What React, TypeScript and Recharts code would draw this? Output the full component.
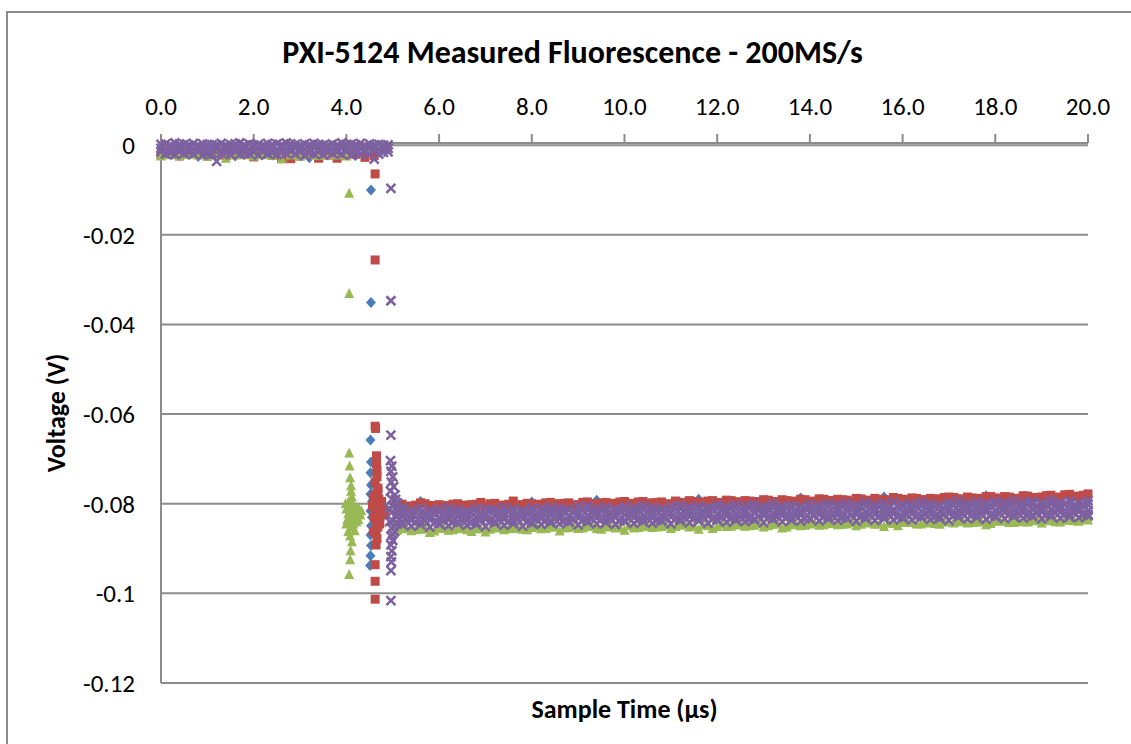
import React from 'react';
import { ScatterChart, Scatter, XAxis, YAxis, CartesianGrid } from 'recharts';

// sample times (µs) - two interleaved sampling grids
const earlyTime = [0.0, 0.2, 0.4, 0.6, 0.8, 1.0, 1.2, 1.4, 1.6, 1.8, 2.0, 2.2, 2.4, 2.6, 2.8, 3.0, 3.2, 3.4, 3.6, 3.8, 4.0, 4.2, 4.4, 4.6, 4.8, 4.9];
const earlyTimeB = [0.1, 0.3, 0.5, 0.7, 0.9, 1.1, 1.3, 1.5, 1.7, 1.9, 2.1, 2.3, 2.5, 2.7, 2.9, 3.1, 3.3, 3.5, 3.7, 3.9, 4.1, 4.3, 4.5, 4.7];
const plateauTime = [
  5.2, 5.4, 5.6, 5.8, 6.0, 6.2, 6.4, 6.6, 6.8, 7.0, 7.2, 7.4, 7.6, 7.8, 8.0,
  8.2, 8.4, 8.6, 8.8, 9.0, 9.2, 9.4, 9.6, 9.8, 10.0, 10.2, 10.4, 10.6, 10.8, 11.0,
  11.2, 11.4, 11.6, 11.8, 12.0, 12.2, 12.4, 12.6, 12.8, 13.0, 13.2, 13.4, 13.6, 13.8, 14.0,
  14.2, 14.4, 14.6, 14.8, 15.0, 15.2, 15.4, 15.6, 15.8, 16.0, 16.2, 16.4, 16.6, 16.8, 17.0,
  17.2, 17.4, 17.6, 17.8, 18.0, 18.2, 18.4, 18.6, 18.8, 19.0, 19.2, 19.4, 19.6, 19.8, 20.0,
];
const plateauTimeB = [
  5.1, 5.3, 5.5, 5.7, 5.9, 6.1, 6.3, 6.5, 6.7, 6.9, 7.1, 7.3, 7.5, 7.7, 7.9,
  8.1, 8.3, 8.5, 8.7, 8.9, 9.1, 9.3, 9.5, 9.7, 9.9, 10.1, 10.3, 10.5, 10.7, 10.9,
  11.1, 11.3, 11.5, 11.7, 11.9, 12.1, 12.3, 12.5, 12.7, 12.9, 13.1, 13.3, 13.5, 13.7, 13.9,
  14.1, 14.3, 14.5, 14.7, 14.9, 15.1, 15.3, 15.5, 15.7, 15.9, 16.1, 16.3, 16.5, 16.7, 16.9,
  17.1, 17.3, 17.5, 17.7, 17.9, 18.1, 18.3, 18.5, 18.7, 18.9, 19.1, 19.3, 19.5, 19.7, 19.9,
];

const xTicks = [0, 2, 4, 6, 8, 10, 12, 14, 16, 18, 20];
const yTicks = [0, -0.02, -0.04, -0.06, -0.08, -0.1, -0.12];

// series 1 (blue diamonds)
const blueEarly = [-0.0022, -0.002, -0.0023, -0.0021, -0.0025, -0.0019, -0.0022, -0.002, -0.0024, -0.0021, -0.0023, -0.002, -0.0022, -0.0026, -0.0021, -0.0023, -0.0028, -0.002, -0.0022, -0.0024, -0.0021, -0.0023, -0.002];
const blueSpikeTime = [4.53, 4.53, 4.52, 4.53, 4.52, 4.53, 4.52, 4.55, 4.52, 4.55, 4.53, 4.52, 4.53, 4.52, 4.51];
const blueSpikeVolt = [-0.01, -0.0351, -0.0658, -0.0707, -0.0731, -0.0758, -0.0778, -0.0795, -0.0816, -0.083, -0.0849, -0.087, -0.0893, -0.0916, -0.0938];
const bluePlateau = [
  -0.0806, -0.081, -0.0795, -0.0809, -0.0807, -0.0809, -0.0805, -0.0808, -0.0806, -0.081, -0.0804, -0.0807, -0.0805, -0.0809, -0.0796,
  -0.0806, -0.0802, -0.0805, -0.0803, -0.0807, -0.0801, -0.0792, -0.0804, -0.0802, -0.0805, -0.0804, -0.08, -0.0803, -0.0801, -0.0805,
  -0.0798, -0.0802, -0.079, -0.0801, -0.0799, -0.0801, -0.0797, -0.08, -0.0798, -0.0802, -0.0796, -0.0799, -0.0797, -0.0787, -0.08,
  -0.0798, -0.0794, -0.0797, -0.0795, -0.0799, -0.0793, -0.0796, -0.0785, -0.0794, -0.0797, -0.0796, -0.0792, -0.0795, -0.0793, -0.0797,
  -0.079, -0.0794, -0.0791, -0.0782, -0.0793, -0.0793, -0.0789, -0.0792, -0.079, -0.0794, -0.0788, -0.0791, -0.0782, -0.0789, -0.0792,
];

// series 2 (red squares)
const redEarly = [-0.0021, -0.0019, -0.0024, -0.002, -0.0018, -0.0022, -0.002, -0.0023, -0.0019, -0.0021, -0.0026, -0.002, -0.0022, -0.003, -0.003, -0.0024, -0.002, -0.0029, -0.0022, -0.0029, -0.0021, -0.002, -0.0027, -0.0023];
const redSpikeTime = [
  4.62, 4.62, 4.62, 4.63, 4.65, 4.65, 4.66, 4.66, 4.62, 4.68, 4.64, 4.7, 4.63, 4.7, 4.65, 4.72, 4.64, 4.68, 4.64, 4.66, 4.64, 4.62, 4.62, 4.62,
  4.75, 4.78, 4.58, 4.6, 4.74, 4.8, 4.76, 4.82, 4.56, 4.72, 4.58, 4.68,
];
const redSpikeVolt = [
  -0.0064, -0.0256, -0.0627, -0.0632, -0.0693, -0.0711, -0.0725, -0.074, -0.0752, -0.0765, -0.0778, -0.079, -0.08, -0.081, -0.082, -0.083, -0.084, -0.0852, -0.0865, -0.0878, -0.0892, -0.0936, -0.0973, -0.1013,
  -0.0805, -0.0815, -0.0785, -0.083, -0.0822, -0.0812, -0.0795, -0.0825, -0.0805, -0.0845, -0.0862, -0.0772,
];
const redPlateau = [
  -0.0801, -0.0805, -0.0798, -0.0804, -0.0802, -0.0804, -0.08, -0.0803, -0.0801, -0.0805, -0.0799, -0.0803, -0.0794, -0.0802, -0.08,
  -0.0801, -0.0797, -0.08, -0.0798, -0.0802, -0.0796, -0.08, -0.0797, -0.0799, -0.0795, -0.0799, -0.0795, -0.0798, -0.0796, -0.08,
  -0.0797, -0.0793, -0.0796, -0.0794, -0.0798, -0.0792, -0.0796, -0.0793, -0.0795, -0.0791, -0.0795, -0.0791, -0.0794, -0.079, -0.0796,
  -0.0789, -0.0793, -0.079, -0.0792, -0.0788, -0.0792, -0.0788, -0.0791, -0.0786, -0.079, -0.0787, -0.0791, -0.0788, -0.079, -0.0785,
  -0.0789, -0.0785, -0.0788, -0.0784, -0.0787, -0.0784, -0.0788, -0.0782, -0.0786, -0.0785, -0.0781, -0.0785, -0.0779, -0.0783, -0.0778,
];
const redPlateauB = [
  -0.0802, -0.0806, -0.0803, -0.08, -0.0805, -0.0805, -0.0801, -0.0804, -0.0802, -0.0797, -0.08, -0.0804, -0.0801, -0.0803, -0.0799,
  -0.0802, -0.0798, -0.0801, -0.0799, -0.0803, -0.0797, -0.0801, -0.0798, -0.08, -0.0796, -0.08, -0.0796, -0.0799, -0.0797, -0.0801,
  -0.0794, -0.0798, -0.0795, -0.0797, -0.0793, -0.0797, -0.0793, -0.0796, -0.0794, -0.0798, -0.0792, -0.0796, -0.0793, -0.0795, -0.0791,
  -0.0794, -0.079, -0.0793, -0.0791, -0.0795, -0.0789, -0.0793, -0.079, -0.0792, -0.0788, -0.0792, -0.0788, -0.0791, -0.0789, -0.0786,
  -0.0786, -0.079, -0.0787, -0.0789, -0.0784, -0.0789, -0.0785, -0.0788, -0.0783, -0.0786, -0.0782, -0.0786, -0.078, -0.0784, -0.0781,
];

// series 3 (green triangles)
const greenEarly = [-0.0024, -0.0021, -0.0023, -0.002, -0.0022, -0.0025, -0.0021, -0.0029, -0.0022, -0.002, -0.0024, -0.0021, -0.0023, -0.003, -0.0022, -0.0024, -0.0021, -0.0023, -0.002, -0.0022, -0.0024];
const greenSpikeTime = [
  4.06, 4.06, 4.06, 4.07, 4.08, 4.1, 4.1, 4.12, 4.05, 4.14, 4.08, 4.16, 4.04, 4.12, 4.2, 4.06, 4.15, 4.1, 4.18, 4.08, 4.12, 4.09, 4.08, 4.06,
  4.0, 4.28, 4.25, 4.02, 4.22, 3.98, 4.3, 4.32, 4.0, 4.26, 4.04,
];
const greenSpikeVolt = [
  -0.0107, -0.0331, -0.0687, -0.0716, -0.0742, -0.076, -0.0772, -0.0785, -0.0795, -0.08, -0.0808, -0.0815, -0.0822, -0.0828, -0.0832, -0.0838, -0.0845, -0.0852, -0.086, -0.0872, -0.0885, -0.0905, -0.0925, -0.0958,
  -0.0812, -0.082, -0.0808, -0.0835, -0.084, -0.08, -0.0825, -0.0815, -0.0845, -0.0835, -0.0862,
];
const greenPlateau = [
  -0.0856, -0.086, -0.0857, -0.0864, -0.0855, -0.0859, -0.0855, -0.0858, -0.0856, -0.0863, -0.0854, -0.0858, -0.0855, -0.0857, -0.0853,
  -0.0856, -0.0852, -0.0861, -0.0853, -0.0855, -0.0851, -0.0855, -0.0852, -0.0854, -0.0859, -0.0854, -0.085, -0.0853, -0.0851, -0.0855,
  -0.0848, -0.0852, -0.0857, -0.0849, -0.0851, -0.0851, -0.0847, -0.085, -0.0848, -0.0852, -0.0846, -0.0854, -0.0847, -0.0849, -0.0845,
  -0.0848, -0.0844, -0.0847, -0.0845, -0.0849, -0.0843, -0.0846, -0.0851, -0.0844, -0.0842, -0.0842, -0.0845, -0.0843, -0.0846, -0.0841,
  -0.084, -0.0843, -0.0841, -0.0847, -0.0839, -0.0839, -0.0842, -0.084, -0.0838, -0.0843, -0.0838, -0.0841, -0.0837, -0.0839, -0.0836,
];
const greenPlateauB = [
  -0.0859, -0.0855, -0.0858, -0.0856, -0.0861, -0.0854, -0.0858, -0.0855, -0.0862, -0.0856, -0.0857, -0.0853, -0.0856, -0.0854, -0.0858,
  -0.0851, -0.0855, -0.0852, -0.0854, -0.085, -0.0854, -0.085, -0.0857, -0.0851, -0.0853, -0.0849, -0.0853, -0.085, -0.0852, -0.0848,
  -0.0851, -0.0847, -0.085, -0.0848, -0.0855, -0.0846, -0.085, -0.0847, -0.0849, -0.0845, -0.0849, -0.0845, -0.0852, -0.0846, -0.0848,
  -0.0843, -0.0847, -0.0844, -0.0846, -0.0842, -0.0846, -0.0842, -0.0845, -0.0843, -0.0849, -0.0841, -0.0845, -0.0842, -0.0844, -0.084,
  -0.0843, -0.0839, -0.0842, -0.084, -0.0844, -0.0838, -0.0842, -0.0839, -0.0841, -0.0837, -0.0837, -0.084, -0.0836, -0.0838, -0.0835,
];

// series 4 (purple crosses)
const purpleEarlyTop = [0.0002, -0.0001, 0.0003, 0.0, -0.0002, 0.0002, 0.0001, -0.0001, 0.0003, 0.0, 0.0001, -0.0002, 0.0002, 0.0, 0.0003, -0.0001, 0.0001, 0.0002, -0.0001, 0.0, 0.0002, 0.0001, -0.0002, 0.0001, 0.0, 0.0001];
const purpleEarlyMid = [-0.0007, -0.0009, -0.0006, -0.0008, -0.001, -0.0007, -0.0005, -0.0009, -0.0008, -0.0006, -0.001, -0.0007, -0.0008, -0.0006, -0.0009, -0.0007, -0.001, -0.0008, -0.0006, -0.0009, -0.0007, -0.0008, -0.001, -0.0006, -0.0008, -0.0007];
const purpleEarlyBottom = [-0.0014, -0.0017, -0.0013, -0.0016, -0.0015, -0.0019, -0.0036, -0.0016, -0.0013, -0.0018, -0.0015, -0.0014, -0.0017, -0.0016, -0.0013, -0.0015, -0.0018, -0.0014, -0.0016, -0.0015, -0.0013, -0.0017, -0.0015, -0.0031, -0.0016, -0.0015];
const purpleEarlyTopB = [0.0003, 0.0005, 0.0002, 0.0004, 0.0003, 0.0001, 0.0004, 0.0002, 0.0005, 0.0003, 0.0002, 0.0004, 0.0003, 0.0005, 0.0002, 0.0003, 0.0004, 0.0001, 0.0003, 0.0005, 0.0002, 0.0004, 0.0003, 0.0002];
const purpleEarlyMidB = [-0.0009, -0.0007, -0.001, -0.0008, -0.0006, -0.0009, -0.0008, -0.0011, -0.0007, -0.0009, -0.0008, -0.0006, -0.001, -0.0008, -0.0007, -0.0009, -0.0006, -0.001, -0.0008, -0.0007, -0.0009, -0.0008, -0.0006, -0.0009];
const purpleEarlyBottomB = [-0.0019, -0.0021, -0.0018, -0.002, -0.0022, -0.0019, -0.0017, -0.0021, -0.002, -0.0018, -0.0022, -0.0019, -0.0021, -0.0018, -0.002, -0.0023, -0.0019, -0.0021, -0.0018, -0.002, -0.0022, -0.0019, -0.0021, -0.002];
const purpleSpikeTime = [
  4.96, 4.96, 4.96, 4.95, 4.98, 4.96, 5.0, 4.97, 5.02, 4.95, 5.05, 4.98, 5.1, 5.0, 5.12, 4.97, 5.08, 5.0, 5.1, 4.98, 5.04, 4.96, 5.0, 4.96, 4.98, 4.96, 4.97, 4.96, 4.96,
  5.15, 5.2, 4.92, 5.06, 5.14, 4.93, 5.02, 5.0,
];
const purpleSpikeVolt = [
  -0.0096, -0.0347, -0.0647, -0.0704, -0.0716, -0.0728, -0.074, -0.0752, -0.0762, -0.0772, -0.078, -0.079, -0.0798, -0.0805, -0.0812, -0.082, -0.0828, -0.0838, -0.0845, -0.0855, -0.0862, -0.0872, -0.0882, -0.0892, -0.0905, -0.0918, -0.093, -0.0949, -0.1016,
  -0.0818, -0.0808, -0.081, -0.079, -0.0835, -0.084, -0.085, -0.0868,
];
const purplePlateauTop = [
  -0.0811, -0.0815, -0.081, -0.0814, -0.0812, -0.0809, -0.0813, -0.0816, -0.081, -0.0812, -0.0813, -0.0808, -0.0812, -0.0815, -0.0809,
  -0.0811, -0.0807, -0.081, -0.0813, -0.0806, -0.0805, -0.081, -0.0808, -0.0812, -0.0806, -0.0809, -0.0804, -0.0808, -0.0811, -0.0806,
  -0.0803, -0.0807, -0.0805, -0.0809, -0.0802, -0.0806, -0.0802, -0.0805, -0.0801, -0.0807, -0.08, -0.0805, -0.0803, -0.0806, -0.0801,
  -0.0803, -0.0799, -0.0802, -0.0798, -0.0804, -0.0797, -0.0802, -0.08, -0.0796, -0.0801, -0.0801, -0.0796, -0.0799, -0.0803, -0.0797,
  -0.0794, -0.0799, -0.0796, -0.08, -0.0795, -0.0798, -0.0793, -0.0797, -0.0795, -0.0799, -0.0792, -0.0797, -0.0794, -0.0798, -0.0793,
];
const purplePlateauUpper = [
  -0.082, -0.0824, -0.0821, -0.0825, -0.0819, -0.0823, -0.0818, -0.0822, -0.082, -0.0824, -0.0817, -0.0822, -0.0819, -0.0823, -0.0818,
  -0.082, -0.0816, -0.0819, -0.0815, -0.0821, -0.0814, -0.0819, -0.0816, -0.082, -0.0815, -0.0818, -0.0813, -0.0817, -0.0815, -0.0819,
  -0.0812, -0.0816, -0.0813, -0.0817, -0.0811, -0.0815, -0.0811, -0.0814, -0.081, -0.0816, -0.0809, -0.0814, -0.0811, -0.0815, -0.081,
  -0.0812, -0.0808, -0.0811, -0.0807, -0.0813, -0.0806, -0.0811, -0.0808, -0.0812, -0.0807, -0.081, -0.0805, -0.0809, -0.0807, -0.0811,
  -0.0804, -0.0808, -0.0805, -0.0809, -0.0803, -0.0807, -0.0803, -0.0806, -0.0802, -0.0808, -0.0801, -0.0806, -0.0803, -0.0807, -0.0802,
];
const purplePlateauMid = [
  -0.0828, -0.0832, -0.083, -0.0827, -0.0833, -0.0831, -0.0826, -0.0829, -0.0832, -0.0827, -0.0826, -0.083, -0.0828, -0.0825, -0.0831,
  -0.0828, -0.0824, -0.0827, -0.0829, -0.0823, -0.0827, -0.0823, -0.0826, -0.0828, -0.0824, -0.0822, -0.0826, -0.0824, -0.0827, -0.0821,
  -0.0824, -0.082, -0.0823, -0.0821, -0.0825, -0.0819, -0.0823, -0.0821, -0.0818, -0.0822, -0.0822, -0.0818, -0.0821, -0.0823, -0.0819,
  -0.0816, -0.082, -0.0818, -0.0815, -0.0819, -0.0819, -0.0815, -0.0818, -0.0816, -0.082, -0.0814, -0.0817, -0.0815, -0.0818, -0.0813,
  -0.0816, -0.0812, -0.0815, -0.0813, -0.0817, -0.0811, -0.0815, -0.0813, -0.081, -0.0814, -0.0814, -0.081, -0.0813, -0.0811, -0.0815,
];
const purplePlateauLower = [
  -0.0841, -0.0837, -0.084, -0.0836, -0.0842, -0.0836, -0.084, -0.0837, -0.0841, -0.0835, -0.0839, -0.0835, -0.0838, -0.0834, -0.084,
  -0.0833, -0.0837, -0.0834, -0.0838, -0.0832, -0.0836, -0.0832, -0.0835, -0.0831, -0.0837, -0.0831, -0.0835, -0.0832, -0.0836, -0.083,
  -0.0833, -0.0829, -0.0832, -0.0828, -0.0834, -0.0828, -0.0832, -0.0829, -0.0833, -0.0827, -0.0831, -0.0827, -0.083, -0.0826, -0.0832,
  -0.0825, -0.0829, -0.0826, -0.083, -0.0824, -0.0828, -0.0824, -0.0827, -0.0823, -0.0829, -0.0823, -0.0827, -0.0824, -0.0828, -0.0822,
  -0.0825, -0.0821, -0.0824, -0.082, -0.0826, -0.082, -0.0824, -0.0821, -0.0825, -0.0819, -0.0823, -0.0819, -0.0822, -0.0818, -0.0824,
];
const purplePlateauBottom = [
  -0.0846, -0.085, -0.0847, -0.0852, -0.0845, -0.0849, -0.0844, -0.0848, -0.0846, -0.0851, -0.0843, -0.0848, -0.0845, -0.085, -0.0844,
  -0.0846, -0.0842, -0.0845, -0.0841, -0.0847, -0.0841, -0.0845, -0.0842, -0.0846, -0.084, -0.0844, -0.084, -0.0843, -0.0839, -0.0845,
  -0.0838, -0.0842, -0.0839, -0.0843, -0.0837, -0.0841, -0.0837, -0.084, -0.0836, -0.0842, -0.0835, -0.084, -0.0837, -0.0839, -0.0834,
  -0.0838, -0.0834, -0.0837, -0.0833, -0.0839, -0.0833, -0.0837, -0.0834, -0.0836, -0.0832, -0.0836, -0.0831, -0.0835, -0.0833, -0.0837,
  -0.083, -0.0834, -0.0831, -0.0835, -0.0829, -0.0833, -0.0829, -0.0832, -0.0828, -0.0834, -0.0828, -0.0832, -0.0829, -0.0831, -0.0827,
];
const purplePlateauUpperB = [
  -0.0819, -0.0823, -0.082, -0.0824, -0.0818, -0.0822, -0.0817, -0.0821, -0.0819, -0.0823, -0.0816, -0.0821, -0.0818, -0.0822, -0.0817,
  -0.0819, -0.0815, -0.0818, -0.0814, -0.082, -0.0813, -0.0818, -0.0815, -0.0819, -0.0814, -0.0817, -0.0812, -0.0816, -0.0814, -0.0818,
  -0.0811, -0.0815, -0.0812, -0.0816, -0.081, -0.0814, -0.081, -0.0813, -0.0809, -0.0815, -0.0808, -0.0813, -0.081, -0.0814, -0.0809,
  -0.0811, -0.0807, -0.081, -0.0806, -0.0812, -0.0805, -0.081, -0.0807, -0.0811, -0.0806, -0.0809, -0.0804, -0.0808, -0.0806, -0.081,
  -0.0803, -0.0807, -0.0804, -0.0808, -0.0802, -0.0806, -0.0802, -0.0805, -0.0801, -0.0807, -0.08, -0.0805, -0.0802, -0.0806, -0.0801,
];
const purplePlateauLowerB = [
  -0.0842, -0.0838, -0.0841, -0.0837, -0.0843, -0.0837, -0.0841, -0.0838, -0.0842, -0.0836, -0.084, -0.0836, -0.0839, -0.0835, -0.0841,
  -0.0834, -0.0838, -0.0835, -0.0839, -0.0833, -0.0837, -0.0833, -0.0836, -0.0832, -0.0838, -0.0832, -0.0836, -0.0833, -0.0837, -0.0831,
  -0.0834, -0.083, -0.0833, -0.0829, -0.0835, -0.0829, -0.0833, -0.083, -0.0834, -0.0828, -0.0832, -0.0828, -0.0831, -0.0827, -0.0833,
  -0.0826, -0.083, -0.0827, -0.0831, -0.0825, -0.0829, -0.0825, -0.0828, -0.0824, -0.083, -0.0824, -0.0828, -0.0825, -0.0829, -0.0823,
  -0.0826, -0.0822, -0.0825, -0.0821, -0.0827, -0.0821, -0.0825, -0.0822, -0.0826, -0.082, -0.0824, -0.082, -0.0823, -0.0819, -0.0825,
];

const pts = (times: number[], volts: number[]) => volts.map((v, i) => ({ t: times[i], v }));

const blueData = [...pts(earlyTime, blueEarly), ...pts(blueSpikeTime, blueSpikeVolt), ...pts(plateauTime, bluePlateau)];
const redData = [
  ...pts(earlyTime, redEarly),
  ...pts(redSpikeTime, redSpikeVolt),
  ...pts(plateauTime, redPlateau),
  ...pts(plateauTimeB, redPlateauB),
];
const greenData = [
  ...pts(earlyTime, greenEarly),
  ...pts(greenSpikeTime, greenSpikeVolt),
  ...pts(plateauTime, greenPlateau),
  ...pts(plateauTimeB, greenPlateauB),
];
const purpleData = [
  ...pts(earlyTime, purpleEarlyTop),
  ...pts(earlyTime, purpleEarlyMid),
  ...pts(earlyTime, purpleEarlyBottom),
  ...pts(earlyTimeB, purpleEarlyTopB),
  ...pts(earlyTimeB, purpleEarlyMidB),
  ...pts(earlyTimeB, purpleEarlyBottomB),
  ...pts(purpleSpikeTime, purpleSpikeVolt),
  ...pts(plateauTime, purplePlateauTop),
  ...pts(plateauTime, purplePlateauUpper),
  ...pts(plateauTime, purplePlateauMid),
  ...pts(plateauTime, purplePlateauLower),
  ...pts(plateauTime, purplePlateauBottom),
  ...pts(plateauTimeB, purplePlateauUpperB),
  ...pts(plateauTimeB, purplePlateauLowerB),
];

const FONT = 'Carlito, Calibri, Lato, sans-serif';
const GRID = '#8c8c8c';

const Diamond = (p: any) => (
  <path d={`M${p.cx},${p.cy - 5.5}L${p.cx + 5},${p.cy}L${p.cx},${p.cy + 5.5}L${p.cx - 5},${p.cy}Z`} fill="#4A7EBB" />
);
const Square = (p: any) => <rect x={p.cx - 4.5} y={p.cy - 4.5} width={9} height={9} fill="#BE4B48" />;
const Triangle = (p: any) => (
  <path d={`M${p.cx},${p.cy - 5.5}L${p.cx + 5},${p.cy + 4.5}L${p.cx - 5},${p.cy + 4.5}Z`} fill="#98B954" />
);
const Cross = (p: any) => (
  <path
    d={`M${p.cx - 4.5},${p.cy - 4.5}L${p.cx + 4.5},${p.cy + 4.5}M${p.cx - 4.5},${p.cy + 4.5}L${p.cx + 4.5},${p.cy - 4.5}`}
    stroke="#7D60A0"
    strokeWidth={2.5}
    fill="none"
  />
);

export default function App() {
  return (
    <div style={{ position: 'fixed', left: 0, top: 0, width: 1131, height: 744, overflow: 'hidden', background: '#fff', fontFamily: FONT }}>
      <div style={{ position: 'absolute', left: 6, top: 11, width: 1200, height: 800, border: `2px solid ${GRID}` }} />
      <div style={{ position: 'absolute', left: 0, top: 37, width: 1145, textAlign: 'center', fontSize: 32, lineHeight: '32px', fontWeight: 700 }}>
        PXI-5124 Measured Fluorescence - 200MS/s
      </div>
      <div style={{ position: 'absolute', left: 161, top: 696, width: 927, textAlign: 'center', fontSize: 26, lineHeight: '26px', fontWeight: 700 }}>
        Sample Time (µs)
      </div>
      <div
        style={{
          position: 'absolute',
          left: 56,
          top: 413,
          transform: 'translate(-50%, -50%) rotate(-90deg)',
          whiteSpace: 'nowrap',
          fontSize: 26,
          lineHeight: '26px',
          fontWeight: 700,
        }}
      >
        Voltage (V)
      </div>
      <div style={{ position: 'absolute', left: 0, top: 0 }}>
        <ScatterChart width={1131} height={744} margin={{ top: 103, right: 43, bottom: 61, left: 81 }}>
          <CartesianGrid vertical={false} stroke={GRID} strokeWidth={2} />
          <XAxis
            type="number"
            dataKey="t"
            orientation="top"
            domain={[0, 20]}
            ticks={xTicks}
            tickFormatter={(v: number) => v.toFixed(1)}
            height={40}
            tickSize={9}
            tickMargin={19}
            axisLine={{ stroke: GRID, strokeWidth: 2 }}
            tickLine={{ stroke: GRID, strokeWidth: 2 }}
            tick={{ fill: '#000', fontSize: 25, fontFamily: FONT }}
          />
          <YAxis
            type="number"
            dataKey="v"
            domain={[-0.12, 0]}
            ticks={yTicks}
            tickFormatter={(v: number) => (v === 0 ? '0' : String(Number(v.toFixed(2))))}
            width={80}
            tickSize={0}
            tickMargin={26}
            axisLine={{ stroke: GRID, strokeWidth: 2 }}
            tickLine={false}
            tick={{ fill: '#000', fontSize: 25, fontFamily: FONT }}
          />
          <Scatter data={blueData} shape={Diamond} isAnimationActive={false} />
          <Scatter data={redData} shape={Square} isAnimationActive={false} />
          <Scatter data={greenData} shape={Triangle} isAnimationActive={false} />
          <Scatter data={purpleData} shape={Cross} isAnimationActive={false} />
        </ScatterChart>
      </div>
    </div>
  );
}
